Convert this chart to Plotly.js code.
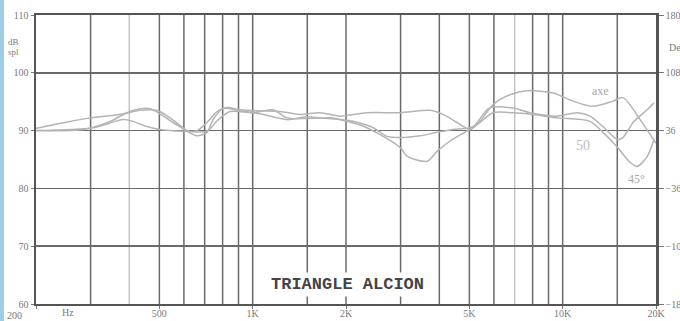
<!DOCTYPE html>
<html>
<head>
<meta charset="utf-8">
<script src="https://cdn.plot.ly/plotly-3.0.1.min.js"></script>
<style>
  html, body { margin: 0; padding: 0; background: #ffffff; }
  #chart { width: 680px; height: 321px; }
</style>
</head>
<body>
<div id="chart"></div>
<script>
// ---- data (frequency in Hz, level in dB SPL) ----
const axeFreq = [200, 252, 301, 373, 433, 477, 502, 541, 583, 614, 661, 712, 767, 827, 910, 1056, 1225, 1421, 1649, 1912, 2338, 2988, 3733, 4111, 4563, 5024, 5412, 5960, 6762, 7675, 9311, 10796, 12525, 14533, 15650, 17770, 20000];
const axeDb   = [90.4, 91.5, 92.2, 92.8, 93.5, 93.6, 93.3, 92.2, 90.9, 90.0, 90.0, 91.4, 93.3, 94.0, 93.6, 93.4, 93.3, 92.8, 93.1, 92.5, 93.1, 93.1, 93.5, 92.8, 91.4, 90.2, 91.6, 94.5, 96.2, 96.9, 96.5, 95.1, 94.2, 95.1, 95.7, 91.9, 87.8];

const d30Freq = [200, 284, 347, 402, 466, 553, 614, 661, 712, 745, 802, 910, 1056, 1290, 1497, 1649, 1912, 2106, 2445, 2713, 2988, 3466, 3932, 4429, 5137, 5800, 6914, 7846, 9592, 11121, 12248, 13490, 14972, 15650, 16870, 18720, 19700];
const d30Db   = [90.0, 90.2, 91.6, 93.3, 93.8, 91.4, 89.9, 89.1, 89.7, 91.9, 93.8, 93.4, 92.9, 91.9, 92.4, 92.2, 91.9, 91.6, 90.5, 89.0, 88.8, 89.1, 89.7, 90.2, 90.7, 93.9, 93.9, 93.1, 92.5, 93.1, 92.5, 90.7, 88.5, 88.8, 91.4, 93.6, 94.8];

const d45Freq = [200, 306, 382, 411, 456, 502, 596, 712, 768, 845, 1002, 1163, 1290, 1497, 1816, 1912, 2219, 2576, 2988, 3147, 3651, 3932, 4331, 5024, 5412, 5960, 6914, 8025, 9592, 12248, 13490, 14972, 16497, 17380, 18720, 19700];
const d45Db   = [90.0, 90.5, 91.9, 91.6, 90.7, 90.2, 89.9, 89.9, 91.7, 93.3, 93.1, 93.6, 92.2, 92.1, 92.2, 91.9, 91.0, 89.3, 87.1, 85.6, 84.7, 86.4, 88.2, 90.2, 91.4, 93.1, 93.1, 92.8, 92.2, 91.6, 89.7, 87.2, 84.5, 83.8, 85.5, 88.5];

// axes / labels
const xRange = [200, 20000];
const yRange = [60, 110];
const degRange = [-180, 180];
const xTickVals = [200, 500, 1000, 2000, 5000, 10000, 20000];
const xTickText = ['', '500', '1K', '2K', '5K', '10K', '20K'];
const yTickVals = [60, 70, 80, 90, 100, 110];
const degTickVals = [-180, -108, -36, 36, 108, 180];
const gridFreqs = [300, 400, 500, 600, 700, 800, 900, 1000, 1500, 2000, 3000, 4000, 5000, 6000, 7000, 8000, 9000, 10000, 15000];
const lightGridFreqs = [400, 7000];

const curveColor = '#b4b4b4';
const gridColor = '#6a6a6a';
const labelFont = {family: 'Liberation Serif, serif', size: 10, color: '#7a7a7a'};

const traces = [
  {x: axeFreq, y: axeDb, name: 'axe'},
  {x: d30Freq, y: d30Db, name: '30'},
  {x: d45Freq, y: d45Db, name: '45'}
].map(t => Object.assign(t, {
  type: 'scatter', mode: 'lines',
  line: {color: curveColor, width: 1.5, shape: 'spline', smoothing: 0.8},
  hoverinfo: 'skip', showlegend: false
}));
// invisible trace to activate right axis
traces.push({x: [xRange[0]], y: [0], yaxis: 'y2', type: 'scatter', mode: 'markers',
  marker: {opacity: 0}, showlegend: false, hoverinfo: 'skip'});

const shapes = gridFreqs.map(f => ({
  type: 'line', xref: 'x', yref: 'paper', x0: f, x1: f, y0: 0, y1: 1,
  layer: 'below',
  line: {color: lightGridFreqs.includes(f) ? '#c4c4c4' : gridColor, width: 1.5}
}));
// scanner edge strip on the far left
shapes.push({type: 'rect', xref: 'paper', yref: 'paper', x0: -0.0581, x1: -0.0516, y0: -0.07, y1: 1.07,
  fillcolor: '#9fcde4', line: {width: 0}, layer: 'below'});

function note(text, x, y, font, extra) {
  return Object.assign({text: text, xref: 'paper', yref: 'paper', x: x, y: y,
    xanchor: 'center', yanchor: 'middle', showarrow: false, font: font}, extra || {});
}
const serif = (size, color) => ({family: 'Liberation Serif, serif', size: size, color: color});

const annotations = [
  note('TRIANGLE ALCION', 0.503, 0.069,
       {family: 'Liberation Mono, monospace', size: 17, color: '#444444', weight: 'bold'},
       {bgcolor: '#ffffff', borderpad: 2}),
  note('axe', 0.9097, 0.737, serif(12, '#a8a8a8')),
  note('50', 0.882, 0.547, serif(14, '#bdbdbd')),
  note('45°', 0.968, 0.4325, serif(12, '#a8a8a8')),
  note('dB', -0.0355, 0.9066, serif(9, '#7a7a7a')),
  note('spl', -0.0355, 0.872, serif(9, '#7a7a7a')),
  note('Deg', 1.0177, 0.889, serif(10, '#7a7a7a'), {xanchor: 'left'}),
  note('200', -0.034, -0.04, labelFont),
  note('Hz', 0.0516, -0.031, labelFont)
];

const layout = {
  width: 680, height: 321,
  margin: {l: 36, r: 24, t: 15, b: 17, pad: 0},
  paper_bgcolor: '#ffffff', plot_bgcolor: '#ffffff',
  showlegend: false,
  xaxis: {
    type: 'log', range: xRange.map(Math.log10),
    tickvals: xTickVals, ticktext: xTickText,
    ticks: 'outside', ticklen: 3, tickcolor: '#777', tickwidth: 1,
    ticklabelstandoff: -4,
    showgrid: false, zeroline: false,
    showline: true, linecolor: '#555', linewidth: 2, mirror: true,
    tickfont: labelFont, fixedrange: true
  },
  yaxis: {
    range: yRange, tickvals: yTickVals,
    ticks: 'outside', ticklen: 3, tickcolor: '#777',
    showgrid: true, gridcolor: gridColor, gridwidth: 1.5, zeroline: false,
    showline: true, linecolor: '#555', linewidth: 2.5,
    tickfont: labelFont, fixedrange: true
  },
  yaxis2: {
    overlaying: 'y', side: 'right', range: degRange, tickvals: degTickVals,
    ticks: 'outside', ticklen: 5, tickcolor: '#777',
    showgrid: false, zeroline: false,
    showline: true, linecolor: '#555', linewidth: 2.5,
    tickfont: labelFont, fixedrange: true
  },
  shapes: shapes,
  annotations: annotations
};

Plotly.newPlot('chart', traces, layout, {displayModeBar: false, staticPlot: true});
</script>
</body>
</html>
